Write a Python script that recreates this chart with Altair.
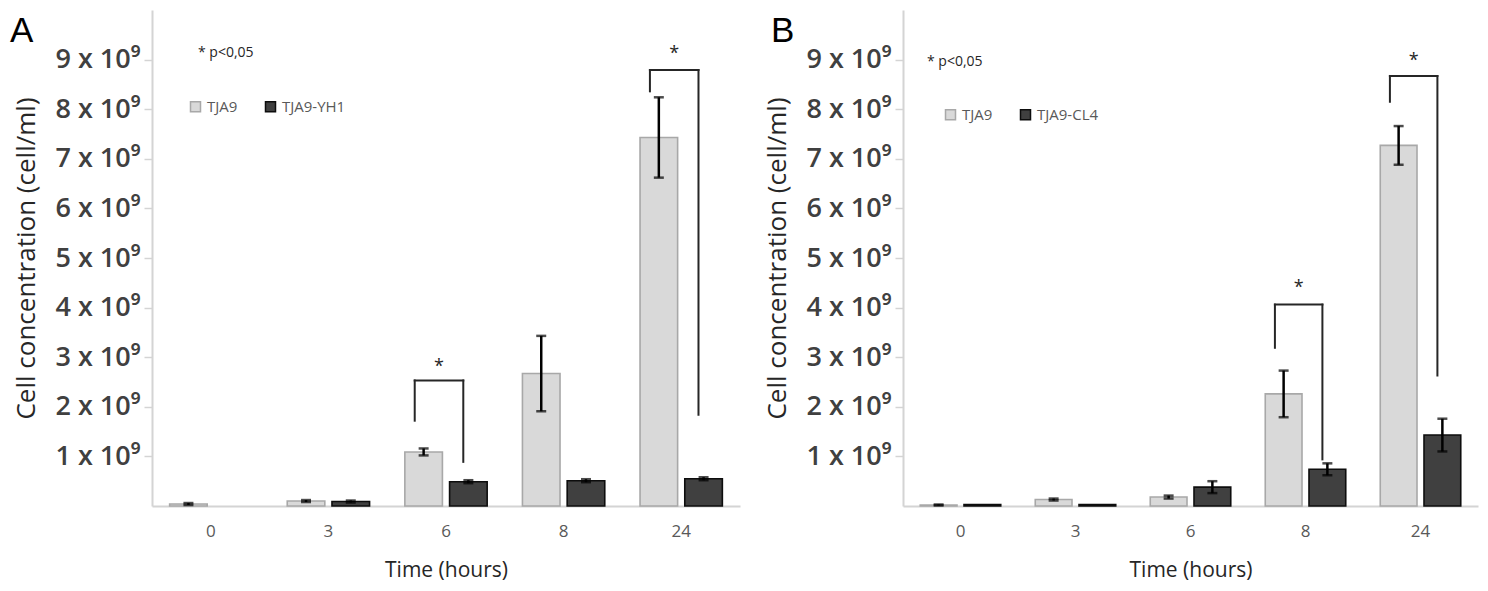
import altair as alt
import pandas as pd

# ---------------- data (cell concentration in units of 10^9 cell/ml) ----------------
times = ["0", "3", "6", "8", "24"]

a_series = ["TJA9", "TJA9-YH1"]
a_tja9 = [0.04, 0.10, 1.09, 2.67, 7.43]
a_tja9_err = [0.02, 0.02, 0.07, 0.76, 0.81]
a_yh1 = [0.0, 0.09, 0.49, 0.51, 0.55]
a_yh1_err = [0.0, 0.02, 0.03, 0.03, 0.03]

b_series = ["TJA9", "TJA9-CL4"]
b_tja9 = [0.02, 0.13, 0.18, 2.26, 7.27]
b_tja9_err = [0.01, 0.02, 0.03, 0.47, 0.39]
b_cl4 = [0.03, 0.03, 0.38, 0.74, 1.43]
b_cl4_err = [0.0, 0.0, 0.12, 0.12, 0.33]

# significance brackets: time, top of bracket, bottom of left leg, bottom of right leg, asterisk
a_br_time = ["6", "24"]
a_br_top = [2.53, 8.79]
a_br_left = [1.72, 8.36]
a_br_right = [0.89, 1.84]
a_br_star = [2.80, 9.12]

b_br_time = ["8", "24"]
b_br_top = [4.06, 8.67]
b_br_left = [3.19, 8.15]
b_br_right = [0.94, 2.63]
b_br_star = [4.40, 8.98]

note_text = ["* p<0,05"]
y_ticks = [1, 2, 3, 4, 5, 6, 7, 8, 9]

FONT = "Open Sans"
LEFT_POS = 0.12
RIGHT_POS = 0.71


def xenc(band_pos=None):
    kw = dict(sort=times, scale=alt.Scale(paddingInner=0.3, paddingOuter=0.15),
              axis=alt.Axis(title="Time (hours)", labelAngle=0, ticks=False,
                            domainColor="#d4d4d4", domainWidth=2,
                            labelColor="#595959", labelFontSize=17, labelPadding=17,
                            labelFont=FONT, titleFont=FONT, titleFontSize=21,
                            titleFontWeight="normal", titleColor="#262626",
                            titlePadding=20))
    if band_pos is not None:
        kw["bandPosition"] = band_pos
    return alt.X("time:N", **kw)


def yenc(field):
    return alt.Y(f"{field}:Q", scale=alt.Scale(domain=[0, 10], nice=False),
                 axis=alt.Axis(title="Cell concentration (cell/ml)", values=y_ticks,
                               labelExpr="datum.value + ' x 10⁹'", grid=False,
                               domainColor="#d4d4d4", domainWidth=2,
                               tickColor="#d4d4d4", tickSize=8, tickWidth=1.5,
                               labelColor="#404040", labelFontSize=27, labelFont=FONT,
                               labelFontWeight=600,
                               labelPadding=4, titleFont=FONT, titleFontSize=26,
                               titleFontWeight="normal", titleColor="#262626",
                               titlePadding=15))


def panel(letter, series, v1, e1, v2, e2, br_time, br_top, br_left, br_right, br_star,
          width, legend_x, legend_y, note_x, note_y, letter_x):
    df = pd.DataFrame({
        "time": times * 2,
        "series": [series[0]] * len(times) + [series[1]] * len(times),
        "value": v1 + v2,
        "err": e1 + e2,
    })
    df["lo"] = df["value"] - df["err"]
    df["hi"] = df["value"] + df["err"]

    xoff = alt.XOffset("series:N", sort=series,
                       scale=alt.Scale(domain=series, paddingInner=0.16, paddingOuter=0))
    leg = alt.Legend(title=None, orient="none", legendX=legend_x, legendY=legend_y,
                     direction="horizontal", symbolType="square", symbolSize=100,
                     symbolStrokeWidth=1.5, labelFontSize=15, labelFont=FONT,
                     labelColor="#595959", columnPadding=24, labelOffset=4)
    color = alt.Color("series:N", sort=series,
                      scale=alt.Scale(domain=series, range=["#d9d9d9", "#404040"]),
                      legend=leg)
    stroke = alt.Stroke("series:N", sort=series,
                        scale=alt.Scale(domain=series, range=["#a8a8a8", "#0d0d0d"]),
                        legend=leg)

    base = alt.Chart(df)
    bars = base.mark_bar(strokeWidth=1.6).encode(
        x=xenc(), xOffset=xoff, y=yenc("value"), color=color, stroke=stroke
    ).transform_filter("datum.value > 0")

    errs = base.transform_filter("datum.err > 0")
    err_rule = errs.mark_rule(color="black", strokeWidth=2.5).encode(
        x=xenc(), xOffset=xoff, y=yenc("lo"), y2="hi")
    cap_lo = errs.mark_tick(color="black", thickness=2.5, size=10).encode(
        x=xenc(), xOffset=xoff, y=yenc("lo"))
    cap_hi = errs.mark_tick(color="black", thickness=2.5, size=10).encode(
        x=xenc(), xOffset=xoff, y=yenc("hi"))

    bdf = pd.DataFrame({"time": br_time, "top": br_top, "bl": br_left,
                        "br": br_right, "star": br_star})
    bbase = alt.Chart(bdf)
    bcol = "#262626"
    leg_l = bbase.mark_rule(color=bcol, strokeWidth=2, strokeCap="square").encode(
        x=xenc(LEFT_POS), y=yenc("bl"), y2="top")
    leg_r = bbase.mark_rule(color=bcol, strokeWidth=2, strokeCap="square").encode(
        x=xenc(RIGHT_POS), y=yenc("br"), y2="top")
    top = bbase.mark_rule(color=bcol, strokeWidth=2, strokeCap="square").encode(
        x=xenc(LEFT_POS), x2=alt.X2("time", bandPosition=RIGHT_POS), y=yenc("top"))
    star = bbase.mark_text(text="*", fontSize=18, font=FONT, color="#262626",
                           baseline="middle").encode(
        x=xenc((LEFT_POS + RIGHT_POS) / 2), y=yenc("star"))

    note = alt.Chart(pd.DataFrame({"t": note_text})).mark_text(
        align="left", baseline="middle", fontSize=14, font=FONT, color="#262626"
    ).encode(x=alt.value(note_x), y=alt.value(note_y), text="t:N")

    lab = alt.Chart(pd.DataFrame({"t": [letter]})).mark_text(
        align="left", baseline="alphabetic", fontSize=35, font="Liberation Sans",
        color="#000000"
    ).encode(x=alt.value(letter_x), y=alt.value(32), text="t:N")

    return alt.layer(bars, err_rule, cap_lo, cap_hi, leg_l, leg_r, top, star, note, lab
                     ).properties(width=width, height=496)


pa = panel("A", a_series, a_tja9, a_tja9_err, a_yh1, a_yh1_err,
           a_br_time, a_br_top, a_br_left, a_br_right, a_br_star,
           588, 36, 89, 46, 43, -142)
pb = panel("B", b_series, b_tja9, b_tja9_err, b_cl4, b_cl4_err,
           b_br_time, b_br_top, b_br_left, b_br_right, b_br_star,
           575, 40, 97, 24, 52, -132)

chart = alt.hconcat(pa, pb, spacing=24).resolve_scale(
    color="independent", stroke="independent", xOffset="independent"
).resolve_legend(color="independent", stroke="independent").properties(
    padding={"left": 2, "top": 2, "right": 2, "bottom": 4}
).configure_view(stroke=None)

chart.save("out.html", embed_options={"renderer": "svg", "actions": False})
